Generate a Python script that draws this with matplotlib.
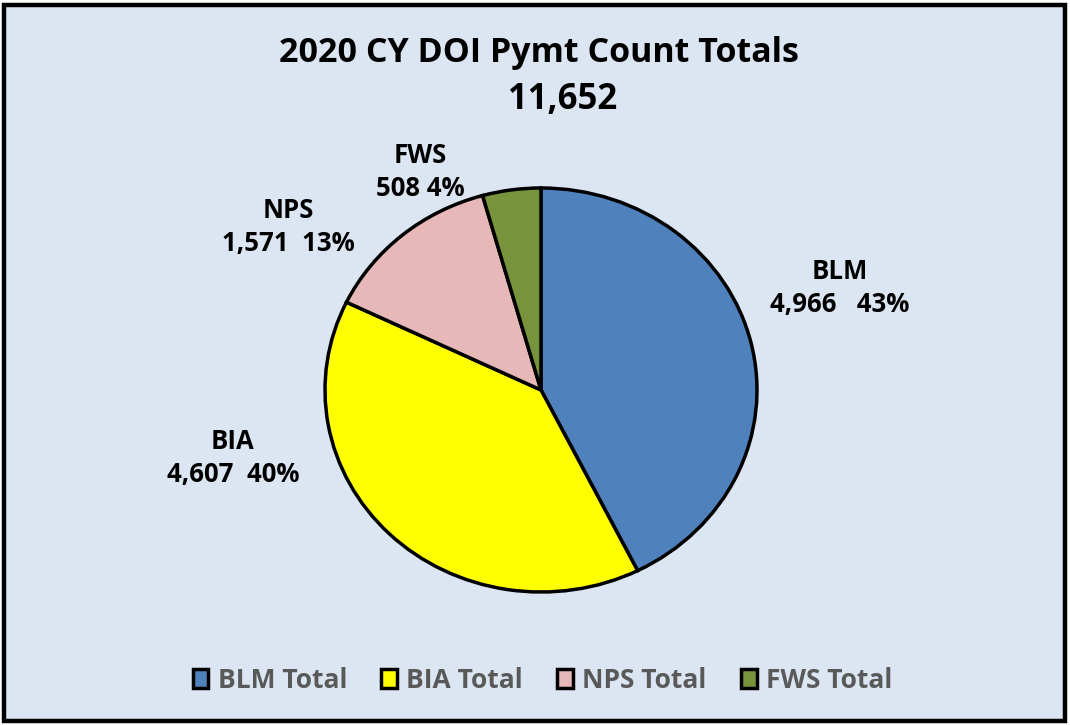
import matplotlib.pyplot as plt
from matplotlib.patches import Patch, Rectangle

# Chart data
agencies = ["BLM", "BIA", "NPS", "FWS"]
counts = [4966, 4607, 1571, 508]
colors = ["#4F81BD", "#FFFF00", "#E6B9B8", "#77933C"]
gaps = ["   ", "  ", "  ", " "]
total = sum(counts)

# Label spots (pie data units, radius = 1)
label_xy = [(1.384, 0.505), (-1.426, -0.337), (-1.171, 0.807), (-0.560, 1.079)]

plt.rcParams["font.family"] = ["Open Sans", "DejaVu Sans"]

fig = plt.figure(figsize=(10.7, 7.25), dpi=100)
fig.patch.set_facecolor("white")

# Background panel with black frame
fig.patches.append(Rectangle((0.004, 0.005), 0.991, 0.988, transform=fig.transFigure,
                             facecolor="#DCE6F2", edgecolor="black", linewidth=3.2, zorder=-5))

fig.text(0.504, 0.927, "2020 CY DOI Pymt Count Totals", ha="center", va="center",
         fontsize=24.5, fontweight="bold", color="black")
fig.text(0.526, 0.862, f"{total:,}", ha="center", va="center",
         fontsize=25, fontweight="bold", color="black")

# Pie axes centred at (541, 390) px
ax = fig.add_axes([325 / 1070, (725 - 592) / 725, 432 / 1070, 404 / 725])
wedges, _ = ax.pie(counts, colors=colors, startangle=90, counterclock=False,
                   wedgeprops=dict(edgecolor="black", linewidth=2.5))
ax.set_aspect("auto")
ax.set_xlim(-1, 1)
ax.set_ylim(-1, 1)
ax.axis("off")

for name, val, gap, (x, y) in zip(agencies, counts, gaps, label_xy):
    pct = round(val / total * 100)
    ax.text(x, y, f"{name}\n{val:,}{gap}{pct}%", ha="center", va="center",
            fontsize=18.5, fontweight="bold", color="black", linespacing=1.25,
            clip_on=False)

handles = [Patch(facecolor=c, edgecolor="black", linewidth=2.5) for c in colors]
leg = fig.legend(handles, [a + " Total" for a in agencies], loc="center",
                 bbox_to_anchor=(0.507, 0.062), ncol=4, frameon=False,
                 handlelength=0.6, handleheight=0.7, handletextpad=0.35,
                 columnspacing=1.3, fontsize=19)
for t in leg.get_texts():
    t.set_color("#595959")
    t.set_fontweight("bold")

fig.savefig("out.png", dpi=100, facecolor=fig.get_facecolor())
